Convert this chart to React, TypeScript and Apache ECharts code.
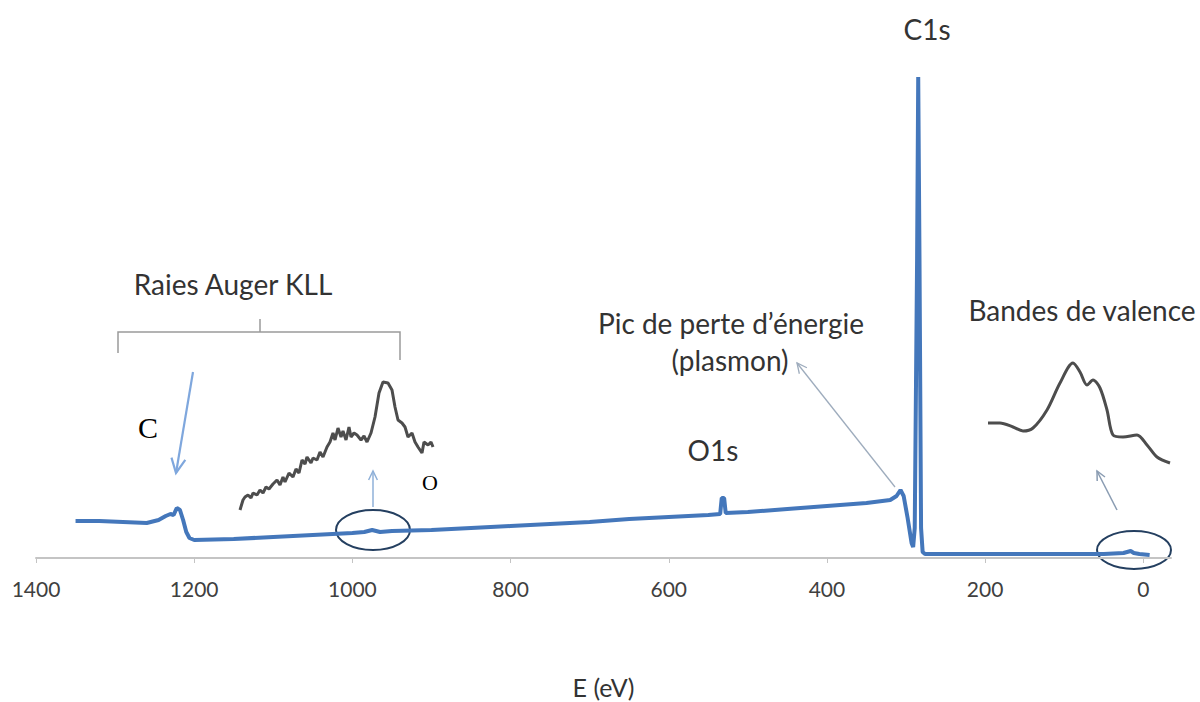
import React, { useEffect, useRef } from "react";
import * as echarts from "echarts";

// Main XPS survey spectrum: [binding energy (eV), intensity (a.u.)]
const spectrumEnergy = [
  1350, 1320, 1290, 1260, 1245, 1236, 1230, 1226, 1222, 1218, 1214, 1210, 1206, 1200,
  1150, 1100, 1050, 1000, 985, 975, 965, 950, 900, 850, 800, 750, 700, 650, 600, 550,
  535, 533, 530, 528, 500, 450, 400, 350, 320, 312, 307, 303, 298, 293, 291, 289, 286,
  284.6, 283, 281, 279, 276, 200, 100, 50, 25, 16, 12, 5, -8,
];
const spectrumIntensity = [
  37, 37, 36, 35, 38, 42, 44, 43, 50, 48, 38, 26, 20, 18,
  19, 21, 23, 25, 26, 28, 26, 27, 28, 30, 32, 34, 36, 39, 41, 43,
  44, 60, 60, 45, 46, 49, 52, 55, 58, 62, 68, 62, 40, 15, 11, 30, 300,
  481, 300, 30, 6, 4, 4, 4, 4, 5, 7, 5, 4, 3,
];

// Inset: Auger KLL zoom (channel, intensity)
const augerChannel = [
  0, 3, 5, 8, 11, 13, 17, 20, 23, 26, 29, 33, 37, 40, 43, 45, 49, 53, 56, 59, 62, 65, 67,
  71, 73, 77, 80, 83, 87, 90, 93, 95, 98, 101, 103, 106, 109, 111, 114, 117, 121, 124, 127,
  131, 135, 139, 143, 148, 152, 155, 158, 162, 165, 168, 172, 175, 178, 182, 184, 188, 191, 193,
];
const augerIntensity = [
  10, 20, 23, 25, 22, 27, 25, 30, 27, 33, 31, 36, 40, 35, 43, 38, 47, 43, 51, 47, 60, 56, 63,
  57, 62, 60, 68, 63, 73, 78, 87, 80, 92, 83, 89, 80, 93, 83, 87, 85, 80, 84, 78,
  87, 103, 127, 138, 137, 130, 113, 100, 97, 93, 83, 87, 78, 73, 67, 78, 75, 78, 73,
];

// Inset: valence band zoom (channel, intensity)
const valenceChannel = [3, 15, 28, 38, 48, 62, 75, 88, 95, 102, 108, 115, 122, 128, 138, 152, 162, 172, 185];
const valenceIntensity = [47, 47, 43, 39, 42, 60, 87, 107, 98, 85, 90, 82, 60, 35, 33, 35, 25, 13, 7];

// Axis
const tickValues = [0, 200, 400, 600, 800, 1000, 1200, 1400];
const axisName = "E (eV)";

// Annotation texts
const labelC1s = "C1s";
const labelO1s = "O1s";
const labelAuger = "Raies Auger KLL";
const labelPlasmon1 = "Pic de perte d’énergie";
const labelPlasmon2 = "(plasmon)";
const labelValence = "Bandes de valence";
const labelC = "C";
const labelO = "O";

const FONT = "Lato, 'Open Sans', sans-serif";

function arrow(x1: number, y1: number, x2: number, y2: number, color: string, width: number, head = 14) {
  const dx = x2 - x1;
  const dy = y2 - y1;
  const len = Math.sqrt(dx * dx + dy * dy);
  const bx = -dx / len;
  const by = -dy / len;
  const a = (26 * Math.PI) / 180;
  const c = Math.cos(a);
  const s = Math.sin(a);
  const l1 = [x2 + head * (bx * c - by * s), y2 + head * (bx * s + by * c)];
  const l2 = [x2 + head * (bx * c + by * s), y2 + head * (-bx * s + by * c)];
  return [
    { type: "line", shape: { x1, y1, x2, y2 }, style: { stroke: color, lineWidth: width }, silent: true },
    {
      type: "polyline",
      shape: { points: [l1, [x2, y2], l2] },
      style: { stroke: color, lineWidth: width, fill: null },
      silent: true,
    },
  ];
}

function text(t: string, x: number, y: number, font: string, fill = "#333333") {
  return {
    type: "text",
    x,
    y,
    silent: true,
    style: { text: t, fill, font, textAlign: "center", textVerticalAlign: "middle" },
  };
}

export default function App() {
  const ref = useRef<HTMLDivElement>(null);

  useEffect(() => {
    if (!ref.current) return;
    const chart = echarts.init(ref.current, undefined, { renderer: "svg" });

    const mainData = spectrumEnergy.map((e, i) => [e, spectrumIntensity[i]]);
    const augerData = augerChannel.map((c, i) => [c, augerIntensity[i]]);
    const valenceData = valenceChannel.map((c, i) => [c, valenceIntensity[i]]);

    const sansFont = `28px ${FONT}`;

    chart.setOption({
      animation: false,
      backgroundColor: "#ffffff",
      grid: [
        { left: 36, right: 29, top: 58, bottom: 144, outerBoundsMode: "none", containLabel: false },
        { left: 240, width: 193, top: 370, height: 150, outerBoundsMode: "none" },
        { left: 985, width: 190, top: 350, height: 120, outerBoundsMode: "none" },
      ],
      xAxis: [
        {
          type: "value",
          gridIndex: 0,
          inverse: true,
          min: -35,
          max: 1400,
          splitLine: { show: false },
          axisLine: { show: true, lineStyle: { color: "#c4c4c4", width: 2 } },
          axisTick: { show: true, customValues: tickValues, length: 5, lineStyle: { color: "#c4c4c4" } },
          axisLabel: {
            customValues: tickValues,
            formatter: (v: number) => String(v),
            color: "#404040",
            fontSize: 21,
            fontFamily: FONT,
            margin: 20,
          },
          name: axisName,
          nameLocation: "middle",
          nameGap: 116,
          nameTextStyle: { color: "#333333", fontSize: 25, fontFamily: FONT },
        },
        { type: "value", gridIndex: 1, min: 0, max: 193, show: false },
        { type: "value", gridIndex: 2, min: 0, max: 190, show: false },
      ],
      yAxis: [
        { type: "value", gridIndex: 0, min: 0, max: 500, show: false, splitLine: { show: false } },
        { type: "value", gridIndex: 1, min: 0, max: 150, show: false },
        { type: "value", gridIndex: 2, min: 0, max: 120, show: false },
      ],
      series: [
        {
          type: "line",
          xAxisIndex: 0,
          yAxisIndex: 0,
          data: mainData,
          showSymbol: false,
          lineStyle: { color: "#4477bb", width: 4 },
          z: 3,
        },
        {
          type: "line",
          xAxisIndex: 1,
          yAxisIndex: 1,
          data: augerData,
          showSymbol: false,
          lineStyle: { color: "#4d4d4d", width: 3 },
        },
        {
          type: "line",
          xAxisIndex: 2,
          yAxisIndex: 2,
          data: valenceData,
          showSymbol: false,
          smooth: 0.3,
          lineStyle: { color: "#4d4d4d", width: 3 },
        },
      ],
      graphic: [
        text(labelC1s, 927, 29, sansFont),
        text(labelAuger, 233, 284, sansFont),
        text(labelPlasmon1, 731, 323, sansFont),
        text(labelPlasmon2, 730, 360, sansFont),
        text(labelValence, 1082, 310, sansFont),
        text(labelO1s, 713, 450, sansFont),
        text(labelC, 148, 427, "30px 'Liberation Serif', serif", "#000000"),
        text(labelO, 430, 482, "22px 'Liberation Serif', serif", "#000000"),
        {
          type: "polyline",
          silent: true,
          shape: { points: [[118, 353], [118, 332], [400, 332], [400, 360]] },
          style: { stroke: "#9a9a9a", lineWidth: 1.5, fill: null },
        },
        {
          type: "line",
          silent: true,
          shape: { x1: 260, y1: 332, x2: 260, y2: 319 },
          style: { stroke: "#9a9a9a", lineWidth: 1.5 },
        },
        ...arrow(193, 372, 176, 473, "#7fa7dd", 2.2, 16),
        ...arrow(373, 507, 373, 471, "#8fb0d8", 1.5, 10),
        ...arrow(1117, 510, 1097, 471, "#8a9cb2", 1.5, 10),
        ...arrow(895, 487, 797, 363, "#9eacbd", 1.3, 11),
        {
          type: "ellipse",
          silent: true,
          shape: { cx: 373, cy: 530, rx: 37, ry: 20 },
          style: { stroke: "#243f60", lineWidth: 2, fill: null },
        },
        {
          type: "ellipse",
          silent: true,
          shape: { cx: 1134, cy: 550, rx: 37, ry: 19 },
          style: { stroke: "#243f60", lineWidth: 2, fill: null },
        },
      ],
    });

    return () => chart.dispose();
  }, []);

  return (
    <div
      ref={ref}
      style={{ position: "fixed", left: 0, top: 0, width: 1200, height: 702, background: "#fff" }}
    />
  );
}
